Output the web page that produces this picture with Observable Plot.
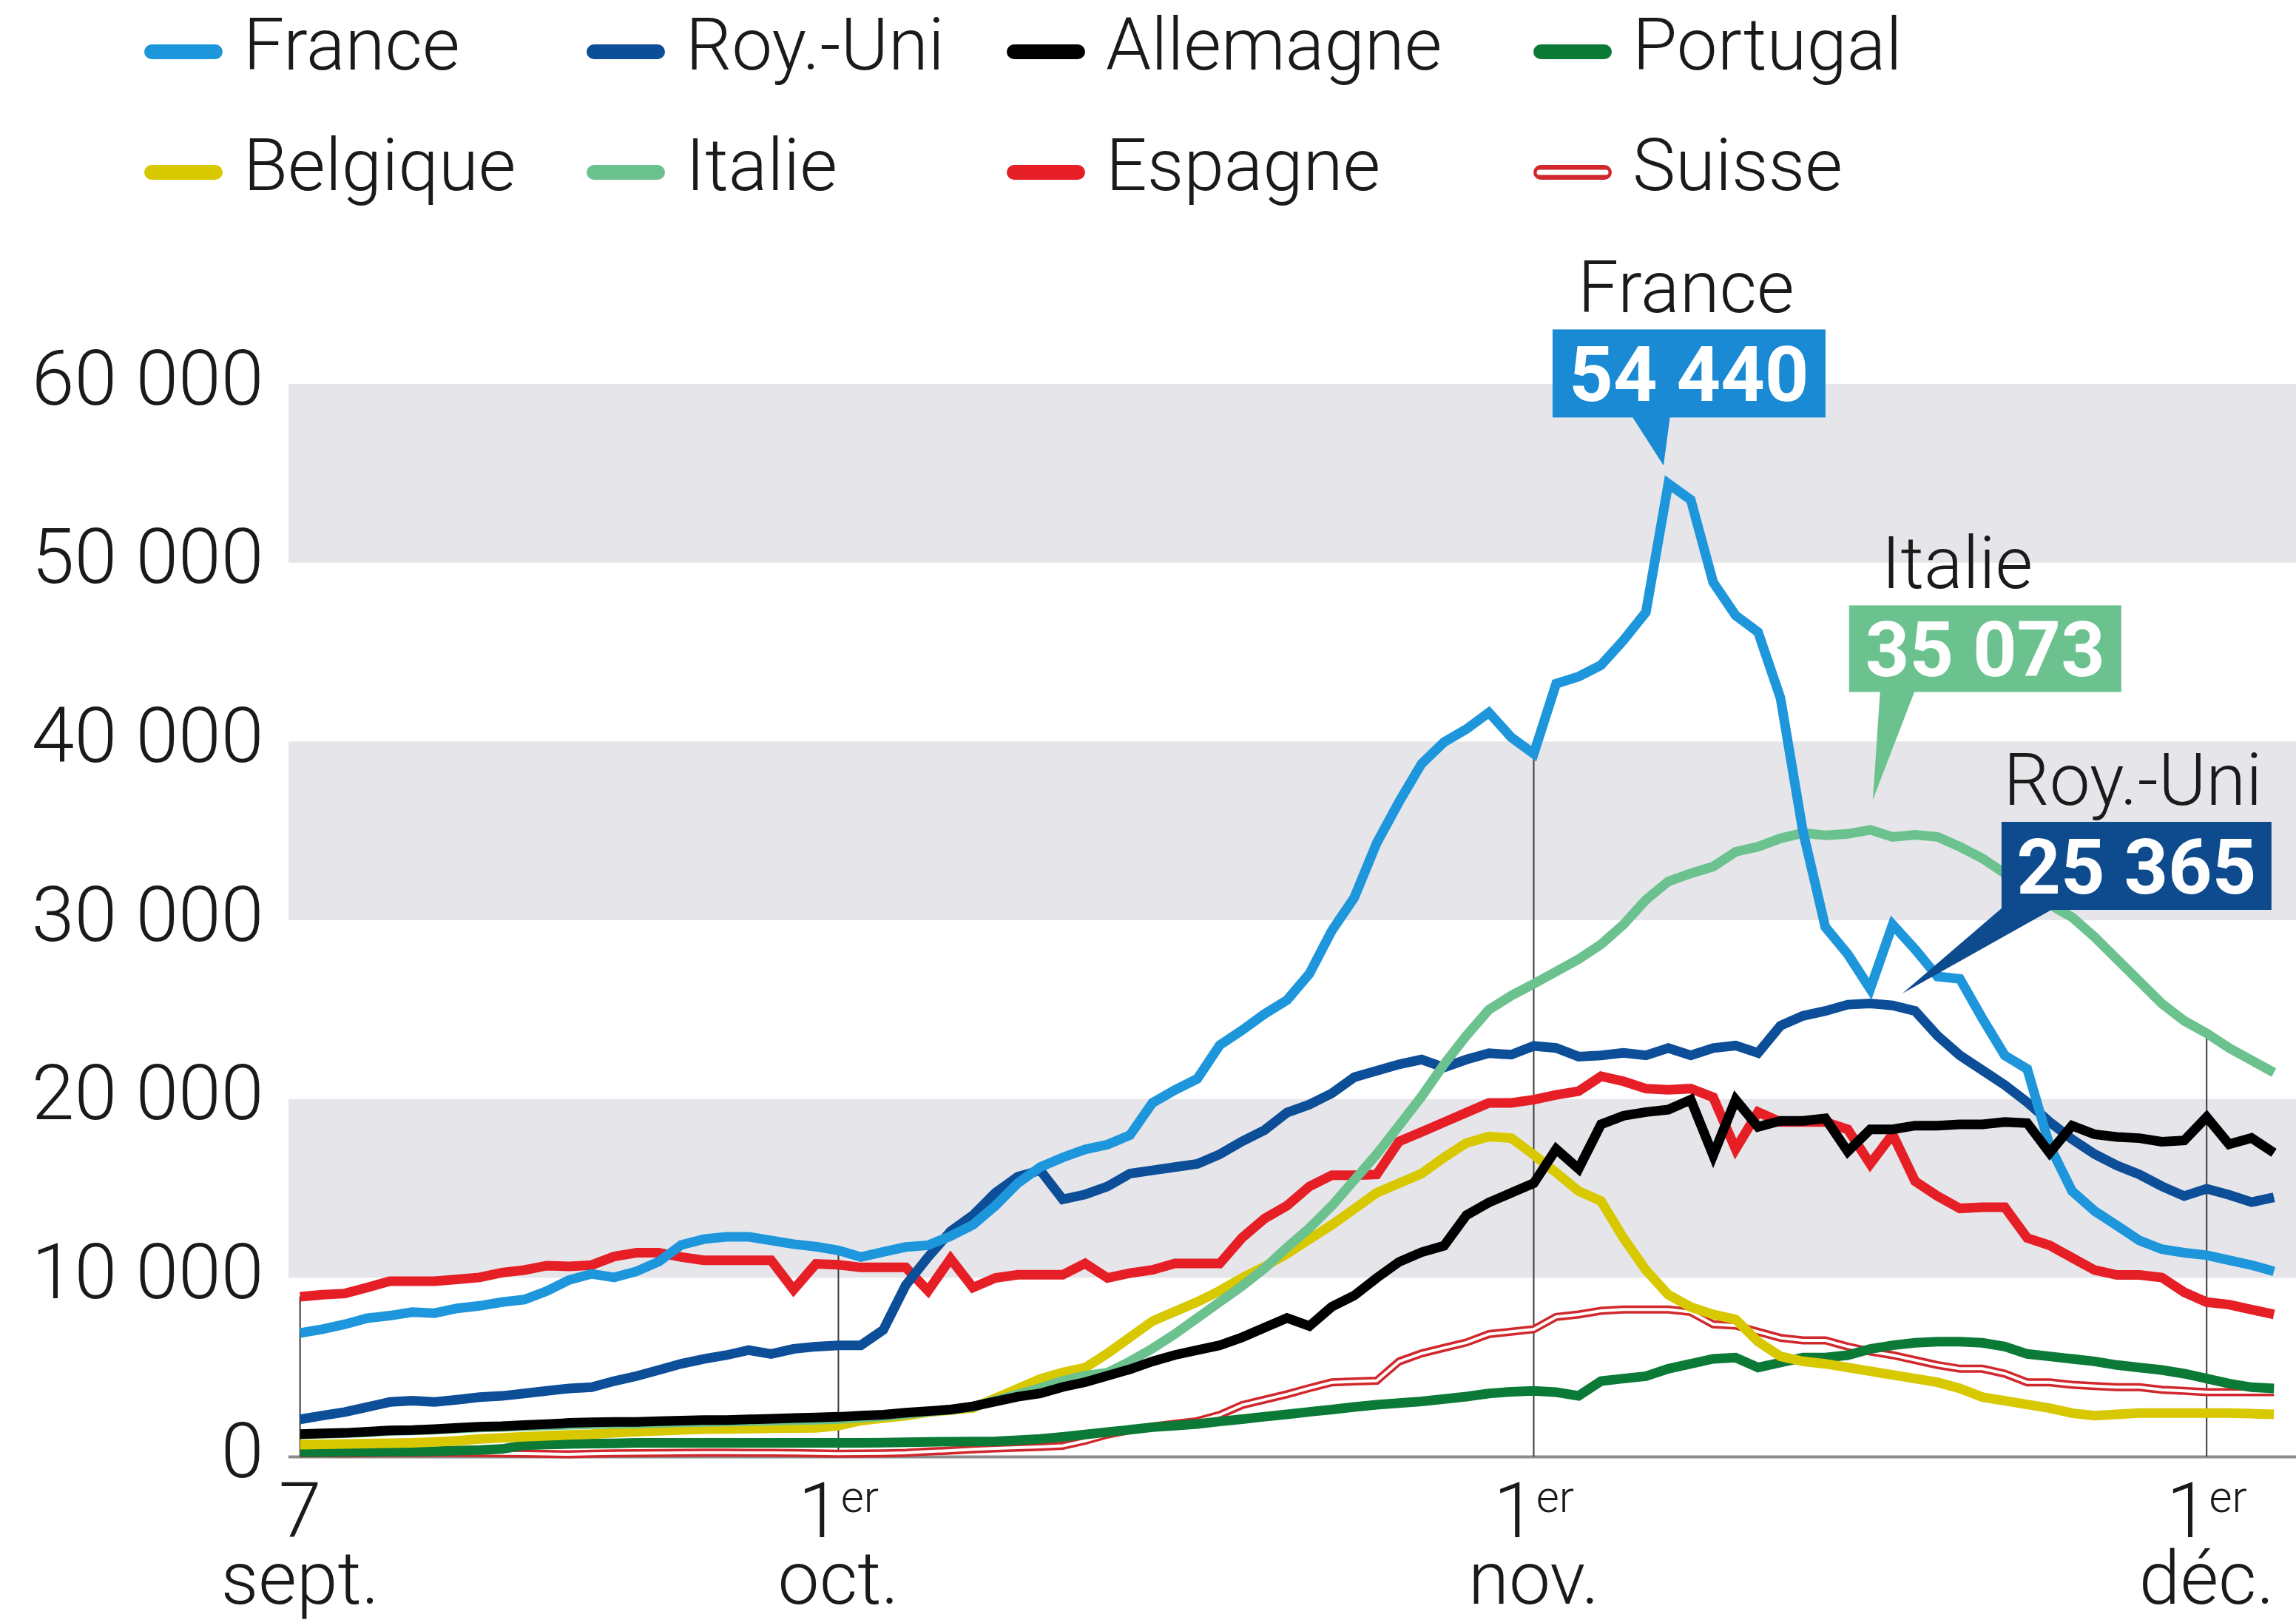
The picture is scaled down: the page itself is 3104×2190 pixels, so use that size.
<!DOCTYPE html>
<html>
<head>
<meta charset="utf-8">
<script src="https://cdn.jsdelivr.net/npm/d3@7"></script>
<script src="https://cdn.jsdelivr.net/npm/@observablehq/plot@0.6"></script>
<style>
  html, body { margin: 0; padding: 0; background: #ffffff; }
  body { width: 3104px; height: 2190px; overflow: hidden; }
  #legend, #chart { display: block; }
  svg { display: block; }
</style>
</head>
<body>
<div id="legend"></div>
<div id="chart"></div>
<script>
// ---------------- DATA ----------------
const startDate = "2020-09-07"; // first day, one value per day

const france = [6930,7140,7420,7760,7900,8100,8040,8310,8450,8660,8800,9280,9900,10240,10040,10380,10930,11860,12180,12310,12310,12110,11900,11760,11550,11180,11470,11740,11840,12350,12980,14050,15310,16210,16750,17200,17470,18000,19800,20520,21150,23030,23870,24780,25550,27030,29440,31290,34340,36650,38770,39980,40710,41640,40250,39330,43250,43650,44290,45680,47250,54440,53540,48920,47070,46140,42450,35000,29640,28120,26180,29775,28395,26875,26740,24530,22460,21700,17400,14870,13760,12940,12110,11620,11420,11280,11000,10730,10380];

const royUni = [2100,2310,2510,2790,3070,3140,3070,3200,3340,3410,3550,3690,3830,3900,4240,4520,4860,5210,5480,5690,5970,5760,6040,6170,6240,6240,7100,9600,11180,12620,13520,14770,15670,16030,14410,14680,15130,15850,16030,16210,16390,16930,17650,18280,19260,19710,20340,21240,21600,21960,22230,21780,22230,22580,22500,22990,22875,22390,22460,22600,22460,22870,22460,22870,23010,22600,24120,24670,24945,25300,25365,25250,24945,23565,22460,21630,20800,19840,18735,17770,16940,16300,15800,15140,14590,15000,14660,14250,14520];

const allemagne = [1270,1310,1340,1410,1480,1500,1550,1620,1690,1720,1780,1830,1900,1930,1960,1960,2000,2030,2060,2060,2100,2130,2170,2200,2240,2310,2360,2470,2560,2650,2830,3100,3370,3550,3910,4180,4540,4900,5340,5700,5970,6240,6690,7230,7770,7320,8400,9030,10010,10910,11450,11810,13520,14230,14770,15310,17220,16115,18600,19080,19290,19425,19980,16870,19980,18460,18800,18800,18940,17080,18320,18320,18530,18530,18600,18600,18735,18670,17010,18530,18045,17900,17830,17630,17700,19010,17490,17840,17010];

const portugal = [260,270,280,290,300,300,320,350,380,440,650,690,720,740,760,790,790,790,790,790,790,790,790,790,790,790,800,820,840,850,860,870,930,1000,1120,1250,1390,1520,1660,1750,1840,1980,2110,2250,2380,2520,2650,2790,2920,3010,3100,3240,3370,3550,3640,3690,3620,3413,4241,4380,4517,4931,5207,5483,5552,5000,5276,5552,5552,5690,6035,6242,6380,6449,6449,6380,6173,5759,5621,5483,5345,5138,5000,4862,4655,4380,4103,3896,3827];

const belgique = [680,700,720,740,770,790,840,900,1000,1070,1130,1180,1230,1270,1340,1410,1460,1510,1550,1560,1580,1600,1610,1620,1750,2030,2170,2300,2500,2620,2740,3280,3820,4360,4720,4990,5790,6690,7590,8130,8670,9290,10010,10640,11360,12170,12980,13870,14770,15310,15850,16750,17560,17920,17830,16900,15900,14867,14315,12245,10450,9070,8380,7967,7690,6450,5620,5345,5207,5000,4793,4586,4380,4172,3827,3344,3137,2930,2723,2447,2310,2378,2447,2447,2447,2447,2447,2420,2378];

const italie = [1250,1290,1320,1380,1450,1480,1520,1580,1640,1680,1720,1760,1800,1830,1850,1860,1900,1930,1950,1980,2000,2030,2060,2080,2120,2200,2280,2400,2520,2650,2800,3150,3500,3850,4250,4550,4710,5340,6060,6870,7770,8670,9560,10550,11720,12800,14050,15490,16930,18540,20160,21960,23570,25010,25800,26460,27150,27840,28670,29775,31155,32190,32640,33020,33850,34130,34600,34900,34770,34850,35073,34680,34800,34680,34130,33480,32640,31720,30900,30190,29085,27840,26600,25360,24393,23700,22875,22185,21495];

const espagne = [8960,9070,9140,9480,9830,9830,9830,9930,10040,10310,10450,10700,10660,10730,11210,11420,11420,11180,11000,11000,11000,11000,9350,10800,10750,10600,10600,10600,9290,11090,9470,10010,10190,10190,10190,10820,10010,10280,10460,10820,10820,10820,12260,13330,14050,15130,15760,15760,15800,17650,18180,18720,19260,19800,19800,19980,20250,20460,21290,21010,20600,20530,20600,20115,17220,19290,18735,18735,18735,18320,16390,18045,15420,14590,13900,13970,13970,12245,11830,11140,10450,10175,10175,10037,9210,8657,8520,8240,7967];

const suisse = [200,210,200,210,220,220,230,230,220,200,190,170,140,180,200,210,220,230,240,240,230,230,220,200,180,190,200,230,300,350,420,480,520,560,620,900,1250,1500,1700,1850,2000,2350,2900,3200,3500,3850,4170,4220,4260,5340,5790,6100,6400,6870,7000,7140,7830,7967,8174,8243,8243,8243,8105,7415,7346,7001,6656,6518,6518,6173,5897,5690,5414,5138,4931,4931,4655,4172,4172,4034,3965,3896,3896,3758,3689,3620,3620,3620,3620];

const countries = ["France", "Roy.-Uni", "Allemagne", "Portugal", "Belgique", "Italie", "Espagne", "Suisse"];
const seriesValues = [france, royUni, allemagne, portugal, belgique, italie, espagne, suisse];

const tickDates = ["2020-09-07", "2020-10-01", "2020-11-01", "2020-12-01"];
const tickDays = ["7", "1er", "1er", "1er"];
const tickMonths = ["sept.", "oct.", "nov.", "déc."];
const yTicks = [0, 10000, 20000, 30000, 40000, 50000, 60000];
const bandStarts = [10000, 30000, 50000];
const bandSize = 10000;
const calloutCountries = ["France", "Italie", "Roy.-Uni"];

// ---------------- STYLE / LAYOUT ----------------
const colors = {
  "France": "#1e96dc", "Roy.-Uni": "#0c4e98", "Allemagne": "#000000", "Portugal": "#0b7a36",
  "Belgique": "#d8c800", "Italie": "#6cc28e", "Espagne": "#e61e26", "Suisse": "#d0282c"
};
const boxColors = { "France": "#1a8ad4", "Italie": "#6cc28e", "Roy.-Uni": "#0d4b8e" };
const drawOrder = ["Suisse", "Portugal", "Belgique", "Espagne", "Roy.-Uni", "Italie", "France", "Allemagne"];
const FONT = "Roboto, 'Liberation Sans', Arial, sans-serif";
const WEIGHT = 300;
const TEXT = "#1a1a1a";
const LW = 13;

// callout geometry, in pixels relative to the peak point
const calloutLayout = {
  "France":   {box: [-156, -208, 369, 119], base: [-49, 3],   tip: [-6, -24], labelDx: -4},
  "Italie":   {box: [-28, -303, 368, 117],  base: [14, 61],   tip: [4, -40],  labelDx: -38},
  "Roy.-Uni": {box: [178, -245, 365, 119],  base: [178, 249], tip: [44, -13], labelDx: -5}
};

// ---------------- HELPERS ----------------
const DAY = 86400000;
const start = new Date(startDate + "T00:00:00Z");
const dateAt = i => new Date(start.getTime() + i * DAY);
const parseDay = s => new Date(s + "T00:00:00Z");
const fmt = v => d3.format(",")(v).replace(/,/g, " ");
const seriesOf = name => seriesValues[countries.indexOf(name)];

const rows = countries.flatMap((c, k) => seriesValues[k].map((v, i) => ({country: c, date: dateAt(i), value: v})));
const tickIdx = tickDates.map((d, i) => i);
const maxAt = d => {
  const i = Math.round((parseDay(d) - start) / DAY);
  return d3.max(seriesValues, s => s[i]);
};

// ---------------- LEGEND ----------------
const legendCols = [195, 793, 1361, 2073];
const legendRows = [94, 257];
const legend = d3.create("svg").attr("width", 3104).attr("height", 280)
  .style("font-family", FONT).style("font-weight", WEIGHT);
countries.forEach((c, k) => {
  const x = legendCols[k % 4], y = legendRows[Math.floor(k / 4)];
  const g = legend.append("g");
  const sy = y - 24;
  g.append("line").attr("x1", x + 10).attr("x2", x + 96).attr("y1", sy).attr("y2", sy)
    .attr("stroke", colors[c]).attr("stroke-width", 20).attr("stroke-linecap", "round");
  if (c === "Suisse") {
    g.append("line").attr("x1", x + 8).attr("x2", x + 98).attr("y1", sy).attr("y2", sy)
      .attr("stroke", "#fff").attr("stroke-width", 7).attr("stroke-linecap", "round");
  }
  g.append("text").attr("x", x + 134).attr("y", y).attr("font-size", 98).attr("fill", TEXT).text(c);
});
document.getElementById("legend").appendChild(legend.node());

// ---------------- CHART ----------------
const lineMarks = drawOrder.flatMap(c => {
  const data = rows.filter(r => r.country === c);
  const common = {x: "date", y: "value", strokeLinejoin: "miter", strokeMiterlimit: 3, strokeLinecap: "butt"};
  if (c === "Suisse") {
    return [
      Plot.line(data, {...common, stroke: colors[c], strokeWidth: 11}),
      Plot.line(data, {...common, stroke: "#ffffff", strokeWidth: 4})
    ];
  }
  return [Plot.line(data, {...common, stroke: colors[c], strokeWidth: LW})];
});

const chart = Plot.plot({
  width: 3104,
  height: 1910,
  marginLeft: 390,
  marginRight: 0,
  marginTop: 239,
  marginBottom: 221,
  x: {type: "utc", domain: [new Date(start.getTime() - DAY / 2), dateAt(89)], axis: null},
  y: {domain: [0, 60000], axis: null},
  style: {fontFamily: FONT, fontSize: "104px", fontWeight: WEIGHT, color: TEXT, background: "#ffffff", overflow: "visible"},
  marks: [
    Plot.rect(bandStarts, {y1: d => d, y2: d => d + bandSize, fill: "#e6e6ea"}),
    Plot.ruleY([0], {stroke: "#8c8c8c", strokeWidth: 4}),
    Plot.ruleX(tickDates, {x: d => parseDay(d), y1: 0, y2: d => maxAt(d), stroke: "#3a3a3a", strokeWidth: 2}),
    ...lineMarks,
    Plot.text(yTicks, {y: d => d, text: d => fmt(d), frameAnchor: "left", textAnchor: "end",
      lineAnchor: "middle", dx: -34, dy: -6, fontSize: 104, fill: TEXT}),
    Plot.text(tickIdx, {x: i => parseDay(tickDates[i]), text: i => tickDays[i] + "|" + tickMonths[i],
      frameAnchor: "bottom", lineAnchor: "bottom", textAnchor: "middle", dy: 108, fontSize: 104, fill: TEXT})
  ]
});

// x tick labels: day (with superscript "er") on the first line, month on the second, one text each
d3.select(chart).selectAll("text").each(function() {
  const s = this.textContent;
  if (!s.includes("|")) return;
  const [day, month] = s.split("|");
  const sel = d3.select(this);
  sel.text(null);
  if (day.endsWith("er")) {
    sel.append("tspan").text(day.slice(0, -2));
    sel.append("tspan").attr("font-size", 60).attr("dy", -34).text("er");
  } else {
    sel.append("tspan").text(day);
  }
  sel.append("tspan").attr("x", 0).attr("y", 90).attr("font-size", 100).text(month);
});

// callouts positioned from the data peaks through the plot's scales
const sx = chart.scale("x"), syc = chart.scale("y");
const layer = d3.select(chart).append("g").attr("class", "callouts").style("font-family", FONT);
calloutCountries.forEach(c => {
  const vals = seriesOf(c);
  const idx = d3.maxIndex(vals);
  const px = sx.apply(dateAt(idx)), py = syc.apply(vals[idx]);
  const L = calloutLayout[c];
  const bx = px + L.box[0], by = py + L.box[1], bw = L.box[2], bh = L.box[3];
  const g = layer.append("g");
  g.append("path")
    .attr("d", `M${px + L.base[0]},${by + bh - 2} L${px + L.tip[0]},${py + L.tip[1]} L${px + L.base[1]},${by + bh - 2} Z`)
    .attr("fill", boxColors[c]);
  g.append("rect").attr("x", bx).attr("y", by).attr("width", bw).attr("height", bh).attr("fill", boxColors[c]);
  g.append("text").attr("x", bx + bw / 2).attr("y", by + bh / 2 + 37).attr("text-anchor", "middle")
    .attr("font-size", 104).attr("font-weight", "bold").attr("fill", "#ffffff").text(fmt(vals[idx]));
  g.append("text").attr("x", bx + bw / 2 + L.labelDx).attr("y", by - 23).attr("text-anchor", "middle")
    .attr("font-size", 98).attr("font-weight", WEIGHT).attr("fill", TEXT).text(c);
});

document.getElementById("chart").appendChild(chart);
</script>
</body>
</html>
